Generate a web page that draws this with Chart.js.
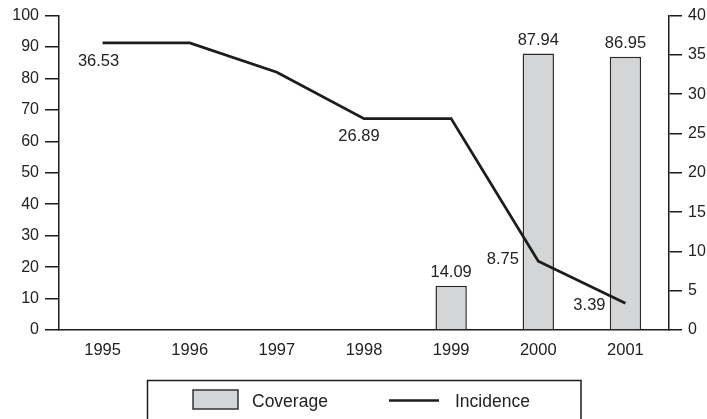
<!DOCTYPE html>
<html><head><meta charset="utf-8">
<script src="https://cdn.jsdelivr.net/npm/chart.js@4"></script>
<style>html,body{margin:0;padding:0;background:#fff}#wrap{width:707px;height:419px;position:relative}</style>
</head><body><div id="wrap"><canvas id="c"></canvas></div>
<script>
// ---- data ----
const years = ['1995','1996','1997','1998','1999','2000','2001'];
const coverage = [null, null, null, null, 14.09, 87.94, 86.95];
const incidence = [36.53, 36.53, 32.8, 26.89, 26.89, 8.75, 3.39];
const incidenceLabelled = [true, false, false, true, false, true, true];
const leftTickMin = 0, leftTickMax = 100, leftTickStep = 10;
const rightTickMin = 0, rightTickMax = 40, rightTickStep = 5;
const legendNames = ['Coverage', 'Incidence'];

const FONT = '"Liberation Sans", Arial, Helvetica, sans-serif';
const TXT = '#222';
const BAR_FILL = '#d4d5d7';
const DARK = '#1c1c1c';

const labelPlugin = {
  id: 'labels',
  afterDatasetsDraw(chart) {
    const ctx = chart.ctx;
    ctx.save();
    ctx.font = '16.5px ' + FONT;
    ctx.fillStyle = TXT;
    ctx.textAlign = 'center';
    ctx.textBaseline = 'middle';
    chart.getDatasetMeta(0).data.forEach((el, i) => {
      if (coverage[i] == null) return;
      ctx.fillText(coverage[i].toFixed(2), el.x, el.y - 13);
    });
    const offs = {0: [-4, 18.5], 3: [-5, 18], 5: [-35.5, -2], 6: [-36, 2]};
    chart.getDatasetMeta(1).data.forEach((el, i) => {
      if (!incidenceLabelled[i]) return;
      const o = offs[i] || [0, -12];
      ctx.fillText(incidence[i].toFixed(2), el.x + o[0], el.y + o[1]);
    });
    ctx.restore();
  },
  afterDraw(chart) {
    const ctx = chart.ctx;
    ctx.save();
    ctx.strokeStyle = DARK;
    ctx.lineWidth = 1.5;
    ctx.strokeRect(147.5, 380.5, 433.5, 60);
    // coverage swatch
    ctx.fillStyle = BAR_FILL;
    ctx.fillRect(193, 390, 45, 19);
    ctx.strokeStyle = '#333';
    ctx.lineWidth = 1.5;
    ctx.strokeRect(193, 390, 45, 19);
    // incidence swatch
    ctx.strokeStyle = DARK;
    ctx.lineWidth = 2.5;
    ctx.beginPath();
    ctx.moveTo(389, 400.5);
    ctx.lineTo(439, 400.5);
    ctx.stroke();
    ctx.font = '17.5px ' + FONT;
    ctx.fillStyle = TXT;
    ctx.textAlign = 'left';
    ctx.textBaseline = 'middle';
    ctx.fillText(legendNames[0], 252, 402);
    ctx.fillText(legendNames[1], 455, 402);
    ctx.restore();
  }
};

new Chart(document.getElementById('c'), {
  type: 'bar',
  data: {
    labels: years,
    datasets: [
      {
        type: 'bar', label: legendNames[0], data: coverage, yAxisID: 'y',
        backgroundColor: BAR_FILL, borderColor: '#2a2a2a', borderWidth: 1.5,
        barPercentage: 0.36, categoryPercentage: 1, order: 2
      },
      {
        type: 'line', label: legendNames[1], data: incidence, yAxisID: 'y1',
        borderColor: DARK, borderWidth: 2.8, pointRadius: 0, tension: 0,
        fill: false, order: 1
      }
    ]
  },
  options: {
    responsive: true, maintainAspectRatio: false, animation: false,
    layout: { padding: { top: 15, bottom: 29, left: 0, right: 0 } },
    plugins: { legend: { display: false }, tooltip: { enabled: false } },
    scales: {
      x: {
        grid: { display: false },
        border: { display: true, color: DARK, width: 1.5 },
        ticks: { color: TXT, font: { family: FONT, size: 16.5 }, padding: 3 },
        afterFit(s) { s.height = 60; }
      },
      y: {
        position: 'left', min: leftTickMin, max: leftTickMax,
        ticks: { stepSize: leftTickStep, color: TXT, font: { family: FONT, size: 16 }, padding: 6 },
        grid: { drawOnChartArea: false, drawTicks: true, tickLength: 14, color: DARK, lineWidth: 1.5 },
        border: { display: true, color: DARK, width: 1.5 },
        afterFit(s) { s.width = 59; }
      },
      y1: {
        position: 'right', min: rightTickMin, max: rightTickMax,
        ticks: { stepSize: rightTickStep, color: TXT, font: { family: FONT, size: 16 }, padding: 6 },
        grid: { drawOnChartArea: false, drawTicks: true, tickLength: 13, color: DARK, lineWidth: 1.5 },
        border: { display: true, color: DARK, width: 1.5 },
        afterFit(s) { s.width = 38; }
      }
    }
  },
  plugins: [labelPlugin]
});
</script></body></html>
